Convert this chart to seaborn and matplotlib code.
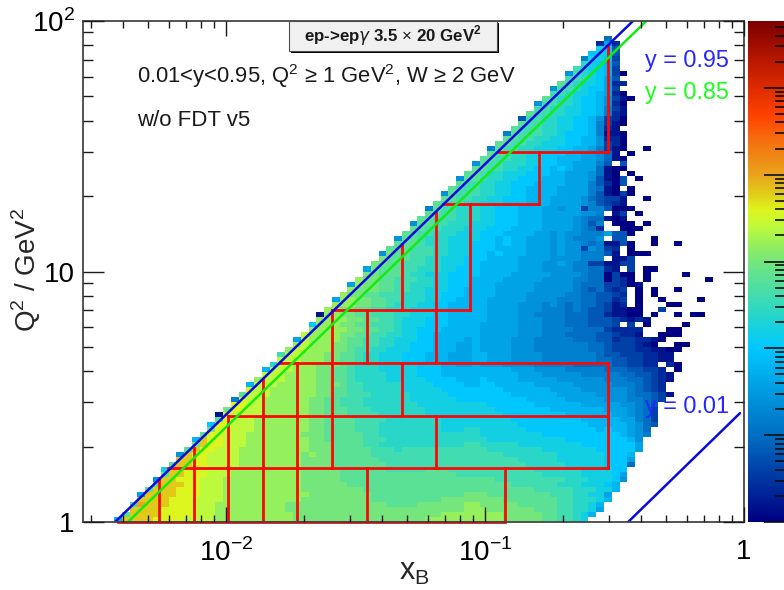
import matplotlib
matplotlib.use('Agg')
import matplotlib.pyplot as plt
from matplotlib.colors import LinearSegmentedColormap, LogNorm
from matplotlib.patches import Rectangle
from matplotlib.ticker import LogLocator, NullFormatter
import seaborn as sns

sns.set_theme(style='white')
plt.rcParams['font.family'] = ['Liberation Sans', 'DejaVu Sans']
plt.rcParams['mathtext.fontset'] = 'custom'
plt.rcParams['mathtext.rm'] = 'Liberation Sans'
plt.rcParams['mathtext.bf'] = 'Liberation Sans:bold'

# log10(counts) in steps of 0.2, one char per xB bin, rows from the top Q2 bin down
level_chars = '0123456789abcdefghijklmnopqrs'
q2_rows = [
    "",
    "",
    "",
    ".......... .......... .......... .......... .......... .......... .......5..",
    ".......... .......... .......... .......... .......... .......... ......282.",
    ".......... .......... .......... .......... .......... .......... ......ba4.",
    ".......... .......... .......... .......... .......... .......... .....aba4.",
    ".......... .......... .......... .......... .......... .......... ....6bba3.",
    ".......... .......... .......... .......... .......... .......... ....cba94.",
    ".......... .......... .......... .......... .......... .......... ...dcba93.",
    ".......... .......... .......... .......... .......... .......... ..7dcba930",
    ".......... .......... .......... .......... .......... .......... ..ddcba84.",
    ".......... .......... .......... .......... .......... .......... .edcbba822",
    ".......... .......... .......... .......... .......... .......... 7ddcbaa83.",
    ".......... .......... .......... .......... .......... .......... ddcbba9820",
    ".......... .......... .......... .......... .......... .........e dccbaa9731 0",
    ".......... .......... .......... .......... .......... ........7d dccbaa9720",
    ".......... .......... .......... .......... .......... ........dd ccbbaa9631",
    ".......... .......... .......... .......... .......... .......edd ccbbaa9621",
    ".......... .......... .......... .......... .......... ......4ddc cbbaa97320",
    ".......... .......... .......... .......... .......... ......eddc cbbaa96310",
    ".......... .......... .......... .......... .......... .....edddc cbbaa9621.",
    ".......... .......... .......... .......... .......... ....6edddc cbaaa96110",
    ".......... .......... .......... .......... .......... ....eeddcc bbaa997220",
    ".......... .......... .......... .......... .......... ...eeddccb bbaa997320",
    ".......... .......... .......... .......... .......... ..6eddccbb baa9986310 ..0",
    ".......... .......... .......... .......... .......... ..eedccbba aa9988751. 0",
    ".......... .......... .......... .......... .......... .eeddccbba a999887510",
    ".......... .......... .......... .......... .......... 7eddcccbba a9988864.4",
    ".......... .......... .......... .......... .......... eeddccbbaa 9a98885100",
    ".......... .......... .......... .......... .........e edccbbbaaa 998887510. 0",
    ".......... .......... .......... .......... ........7e edccbbaaa9 9988874104 .0",
    ".......... .......... .......... .......... ........ed dccbbaaa99 9988864204",
    ".......... .......... .......... .......... .......edd dccbbaa999 988886510. 0",
    ".......... .......... .......... .......... ......7edd dccbbaa999 9888864103 0",
    ".......... .......... .......... .......... ......eedd ccbbaaa999 8888754331 ..0",
    ".......... .......... .......... .......... .....edddc cbbbaaa999 8888764321",
    ".......... .......... .......... .......... ....6eddcc cbbaaa9998 8788366400 0",
    ".......... .......... .......... .......... ....eeddcc cbbaaa9998 8888776.13 .0",
    ".......... .......... .......... .......... ...eedddcc cbbaaa9998 8887655101",
    ".......... .......... .......... .......... ..7eeddccc bbbaaa9998 8887646.00 0.0",
    ".......... .......... .......... .......... ..eeddcccb bbaaa99998 8887652..0 00",
    ".......... .......... .......... .......... .eeddcccbb baaa999988 7877666844 0",
    ".......... .......... .......... .......... 7eedcccbbb baa9a99888 7876667.44 ...0",
    ".......... .......... .......... .......... eeedcccbbb aaa9a99888 7877656114 0..0..0",
    ".......... .......... .......... .........e eedddccbbb aaa9999888 787737632. 0",
    ".......... .......... .......... ........7f eedddccbbb aa9a999888 787766641. 000",
    ".......... .......... .......... ........fe eeddccbbba aa99998888 7777666.11 3",
    ".......... .......... .......... .......ffe edddccbbba a999998887 7876633113 3",
    ".......... .......... .......... ......8fee eddcccbbaa a999998887 777665521. 3.00",
    ".......... .......... .......... ......ffee edccbbbaaa a999988888 7777655030 0.0....0",
    ".......... .......... .......... .....gffee dddccbbaaa 9999888887 7776655032 0.0....... 0",
    ".......... .......... .......... ....8gffee ddcccbbaaa 9998888877 7776555332 01",
    ".......... .......... .......... ....gfffee ddccbbbaa9 9998888877 7776545323 .0.0..0",
    ".......... .......... .......... ...gffeedd dcccbbaaa9 9998888777 7766554432 .0.0",
    ".......... .......... .......... ..8ggffeed dcccbbaa99 9988888777 7666554423 .0..0....0",
    ".......... .......... .......... ..gggffeed cccbbaa999 9988887776 7656554312 .0...00",
    ".......... .......... .......... .ggffeeddc ccbbbaa999 9988887776 6656544311 00..3",
    ".......... .......... .......... 1ggffeeddd ccbbbaa999 9988887766 6655544211 00.0..0.00",
    ".......... .......... .......... ggggffeedd cbbbaaa999 9988887776 6655544432 121",
    ".......... .......... .........a gggffeeddd cbbbaaa999 9888887776 665554443. 3.0....0",
    ".......... .......... .........g ggggffeedd cbbaaa9999 9888887776 6665555322 22...00",
    ".......... .......... ........hg gggffeeddc cbbaa99999 9888887776 6655554432 21..000",
    ".......... .......... .......8hg gggfeeddcc bbbaa99998 9888877766 6665554423 32210",
    ".......... .......... .......ghg ggffeeddcc bbaaa99988 9888877766 6666655433 3210..00",
    ".......... .......... ......ghhg ggffeddccb bbaaa99988 9888877766 6666655433 3221100",
    ".......... .......... .....dhhgg gffeedccbb baaa999888 9988877776 6666665443 332211",
    ".......... .......... .....hhhgg gffeedccbb baaa999888 9988877776 6666665544 332211",
    ".......... .......... ....chhggg fffedcccbb bbbaaa9988 9888777766 6665555544 3322.20",
    ".......... .......... ...9hhhggg ffeedcccbb bbbaaa9999 9999988877 7766666555 44332.0",
    ".......... .......... ...hhhgggg ffeedccccb bbbaaa9999 9999998887 7777666665 544321",
    ".......... .......... ..ghhhgggg ffeedccccb bbbbaaaa99 9a99998888 8777777666 554321",
    ".......... .......... .9hhhggggg fffeddcccc cbbbbaaaa9 9aa9999988 8887777766 65432",
    ".......... .......... .ihhgggggg ffeeddcccc cbbbbbaaaa aaaa999999 8888777777 65432",
    ".......... .......... ehhhgggggg ffeedddccc ccbbbbbaaa aaaaa99999 9888887777 655431",
    ".......... .........6 ihhggggggf feedddcccc ccbbbbbbaa aaaaaaa999 9988888777 66543",
    ".......... .........i ihhggggggf feedddcccc cccbbbbbbb bbaaaaaa99 9999888887 7654",
    ".......... ........fi ihhggggggf feeedddccc ccccbbbbbb bbbaaaaaaa 9999999888 7653",
    ".......... .......1ih hhhggggggf feeeddddcc ccccbbbbbb bbbbaaaaaa aa99999988 7653",
    ".......... .......eih hhgggggggf feeeeddddc ccccccbbbb bbbbbaaaaa aaaa999998 8653",
    ".......... ......aiih hhgggggggf feeeedddcc ccccccbbbb bbbbbbaaaa aaaaa99999 8754",
    ".......... ......fiih hhgggggggf feeeedddcc ccccccbbbc cbbbbbbaaa aaaaaa9a99 875",
    ".......... .....eiihh hgggggggff feeeeeddcc cccccccccc cbbbbbbbba aaaaaaaaa9 876",
    ".......... ....9jiihh hggggggggf feeeeedddc cccccccccc ccbbbbbbbb bbaaaaaaaa 97",
    ".......... ....fjiihh hggggggggf ffeeeeddcc cccccccccd dcccccbbbb bbbbaaaaaa a8",
    ".......... ...ejiihhh gggggggggf ffeeeeeddd cddddddddd ddcccccccb bbbbbbaaaa a8",
    ".......... ..7jiihhhh ggggggggfg ffeeeeeddd dddddddddd ddddcccccc cbbbbbbaaa 9",
    ".......... ..jjiihhhh ggggggggff ffeeeeeedd dddddddddd ddddddcccc cbbbbbbaaa 8",
    ".......... .ejjiihhhh ggggggggff ffeeeeeeed dddddddddd dddddddccc ccbbbbbaaa 5",
    ".......... bjjiihhhhg ggggggggff fffeeeeeed ddddeeeddd ddddddddcc ccccbbbbaa",
    ".......... ejjiiihhhg ggggggggff fffeeeeeee eeeeeeeedd dddddddddc ccccbbbba8",
    ".........7 jjiiihhhgg ggggggggff fffeeeeeee eeeeeeeeee eeeddddddd ddcccbbba7",
    ".........e jjjiihhhgg ggggggggff ffffeeeeee eeeeeeeeee eeeeeddddd dcccbbba9.",
    "........ej jjiiihhhgg ggggggggff ffffffeeee eeeeeeeeee eeeeeeeedd dddcccbb9.",
    ".......8jj jjiiihhhgg gggggggggf fffffffeee eeeeeeeeef ffeeeeeeee dddccbb8..",
    ".......jjj jiiihhhhgg ggggggggff fffffffeee eeeeeeffff ffffeeeeee eddcccb9..",
    "......dkjj jiiihhhggg ggggggffff fffffffffe eeeffffffg gfffffeeee eddccb9...",
    "......jjjj iiiihhhggg ggggggffff ffffffffff fffffffffg ggffffffee eddccb8...",
    ".....ejjjj iiiihhhggg gggggggfff ffffffffff ffffffgggg ggggfffffe eddcb9....",
    "....9jjjji iiihhhhggg gggggggfff ffffffffff ffffgggggg ggggfffffe eddcb.....",
]

# axis range, bins
x_range = (-2.552, 0)
y_range = (0, 2)
n_xbins = 85
n_ybins = 100

# red bin boundaries: xB lines (xB, Q2 low, Q2 high), Q2 lines (Q2, xB low, xB high)
x_bounds = [(0.0055, 1, 1.5), (0.0075, 1, 1.97), (0.0102, 1, 2.65), (0.0139, 1, 3.69),
            (0.0188, 1, 4.3), (0.0257, 1.64, 7), (0.035, 1, 1.64), (0.035, 4.3, 7),
            (0.048, 2.65, 4.3), (0.048, 7, 12.76), (0.0645, 1.64, 2.65), (0.0645, 4.3, 17.1),
            (0.0875, 7, 18.6), (0.12, 1, 1.64), (0.1616, 18.6, 30), (0.2985, 1.64, 4.3),
            (0.2985, 30, 80)]
q2_bounds = [(1, 0.00383, 0.12), (1.64, 0.00597, 0.2985), (2.65, 0.0102, 0.2985),
             (4.3, 0.01616, 0.2985), (7, 0.0257, 0.0875), (18.6, 0.0688, 0.1616),
             (30, 0.1123, 0.2985)]

# y = const kinematic lines
y95_x, y95_q2 = [0.00373, 0.3727], [1, 100]
y85_x, y85_q2 = [0.00418, 0.4197], [1, 100]
y01_x, y01_q2 = [0.357, 0.965], [1, 2.72]

# palette: log10(counts), rgb
zmax_log = 5.77
pal_log = [0, 1, 2, 2.4, 3, 3.2, 3.4, 3.6, 3.8, 4, 4.4, 4.7, 5.2, 5.77]
pal_rgb = [(0, 0, 130), (0, 110, 195), (0, 200, 255), (40, 215, 200), (115, 230, 125),
           (150, 240, 90), (190, 250, 60), (220, 245, 30), (225, 200, 25), (232, 165, 28),
           (245, 110, 15), (255, 65, 0), (200, 30, 0), (125, 0, 0)]
cmap = LinearSegmentedColormap.from_list(
    'root_pal', [(v / zmax_log, tuple(c / 255 for c in rgb)) for v, rgb in zip(pal_log, pal_rgb)])

# rows -> long table
xs, ys, zs = [], [], []
dx = (x_range[1] - x_range[0]) / n_xbins
dy = (y_range[1] - y_range[0]) / n_ybins
for r, row in enumerate(q2_rows[::-1]):
    for i, ch in enumerate(row.replace(' ', '')):
        if ch == '.':
            continue
        xs.append(10 ** (x_range[0] + (i + 0.5) * dx))
        ys.append(10 ** (y_range[0] + (r + 0.5) * dy))
        zs.append(10 ** (0.2 * level_chars.index(ch)))

fig = plt.figure(figsize=(7.84, 5.9), dpi=100)
W, H = 784, 590
ax = fig.add_axes([83 / W, 1 - 522 / H, 661 / W, 501 / H])
sns.histplot(x=xs, y=ys, weights=zs, bins=(n_xbins, n_ybins), binrange=(x_range, y_range),
             log_scale=True, cmap=cmap, ax=ax)
mesh = ax.collections[0]
mesh.set_norm(LogNorm(1, 10 ** zmax_log))  # seaborn passes vmin, so log scale goes on afterwards
ax.set_xlim(10 ** x_range[0], 1)
ax.set_ylim(1, 100)
ax.set_axisbelow(False)

red = (0.98, 0.03, 0.03)
for xv, lo, hi in x_bounds:
    ax.plot([xv, xv], [lo, hi], color=red, lw=2, solid_capstyle='projecting')
for qv, lo, hi in q2_bounds:
    ax.plot([lo, hi], [qv, qv], color=red, lw=2, solid_capstyle='projecting', clip_on=False)
ax.plot(y95_x, y95_q2, color=(0.04, 0.04, 0.88), lw=1.8)
ax.plot(y85_x, y85_q2, color=(0.08, 0.92, 0.08), lw=1.8)
ax.plot(y01_x, y01_q2, color=(0.04, 0.04, 0.88), lw=1.8)

# ROOT style axes
frame = (0.27, 0.27, 0.27)
for s in ax.spines.values():
    s.set_color(frame)
    s.set_linewidth(1.3)
    s.set_visible(True)
ax.set_xticks([0.01, 0.1, 1], ['$10^{-2}$', '$10^{-1}$', '1'])
ax.set_yticks([1, 10, 100], ['1', '10', '$10^{2}$'])
for axis in (ax.xaxis, ax.yaxis):
    axis.set_minor_locator(LogLocator(base=10, subs=range(2, 10), numticks=20))
    axis.set_minor_formatter(NullFormatter())
ax.tick_params(axis='x', which='major', direction='in', length=10.8, width=1, top=True, bottom=True,
               color=(0.1, 0.1, 0.1), labelsize=20, pad=12, labelcolor='black')
ax.tick_params(axis='x', which='minor', direction='in', length=5, width=1, top=True, bottom=True,
               color=(0.1, 0.1, 0.1))
ax.tick_params(axis='y', which='major', direction='in', length=15, width=1, left=True, right=True,
               color=(0.1, 0.1, 0.1), labelsize=20, pad=6, labelcolor='black')
ax.tick_params(axis='y', which='minor', direction='in', length=7.5, width=1, left=True, right=True,
               color=(0.1, 0.1, 0.1))
ax.set_xlabel('')
ax.set_ylabel('')

fig.text(399 / W, 1 - 572 / H, 'x$_{\\mathrm{B}}$', fontsize=22, ha='left', va='center')
fig.text(26 / W, 1 - 270 / H, 'Q$^2$ / GeV$^2$', fontsize=20, rotation=90, ha='center', va='center')

# header box with shadow
fig.add_artist(Rectangle((291 / W, 1 - 53 / H), 208 / W, 30 / H, transform=fig.transFigure,
                         fc='black', ec='none', zorder=5))
fig.add_artist(Rectangle((289 / W, 1 - 51 / H), 208 / W, 30 / H, transform=fig.transFigure,
                         fc=(0.94, 0.94, 0.94), ec=(0.3, 0.3, 0.3), lw=0.8, zorder=6))
fig.text(393 / W, 1 - 36 / H, 'ep->ep$\\gamma$ 3.5 $\\times$ 20 GeV$^{\\mathbf{2}}$', fontsize=12.2,
         fontweight='bold', ha='center', va='center', zorder=7, color=(0.1, 0.1, 0.1))

fig.text(137 / W, 1 - 76 / H, '0.01<y<0.95, Q$^2$ ≥ 1 GeV$^2$, W ≥ 2 GeV', fontsize=15.8,
         ha='left', va='center', color=(0.1, 0.1, 0.1))
fig.text(137 / W, 1 - 121 / H, 'w/o FDT v5', fontsize=16, ha='left', va='center', color=(0.1, 0.1, 0.1))
fig.text(645 / W, 1 - 61 / H, 'y = 0.95', fontsize=16.8, color=(0.15, 0.15, 1), ha='left', va='center')
fig.text(645 / W, 1 - 92 / H, 'y = 0.85', fontsize=16.8, color=(0.1, 1, 0.1), ha='left', va='center')
fig.text(645 / W, 1 - 406 / H, 'y = 0.01', fontsize=16.8, color=(0.15, 0.15, 1), ha='left', va='center')

# colour bar, runs off the right edge like the cropped original
cax = fig.add_axes([748 / W, 1 - 522 / H, 36 / W, 501 / H])
cb = fig.colorbar(mesh, cax=cax)
cb.outline.set_visible(False)
cax.set_axisbelow(False)
cax.yaxis.set_ticks_position('right')
cax.yaxis.set_major_locator(LogLocator(base=10, numticks=10))
cax.yaxis.set_minor_locator(LogLocator(base=10, subs=range(2, 10), numticks=20))
cax.yaxis.set_minor_formatter(NullFormatter())
cax.tick_params(which='major', direction='in', length=14.5, width=1.2, color=(0.05, 0.05, 0.05),
                labelright=False, right=True)
cax.tick_params(which='minor', direction='in', length=6.5, width=1.2, color=(0.05, 0.05, 0.05),
                labelright=False, right=True)

fig.savefig('out.png', dpi=100)
